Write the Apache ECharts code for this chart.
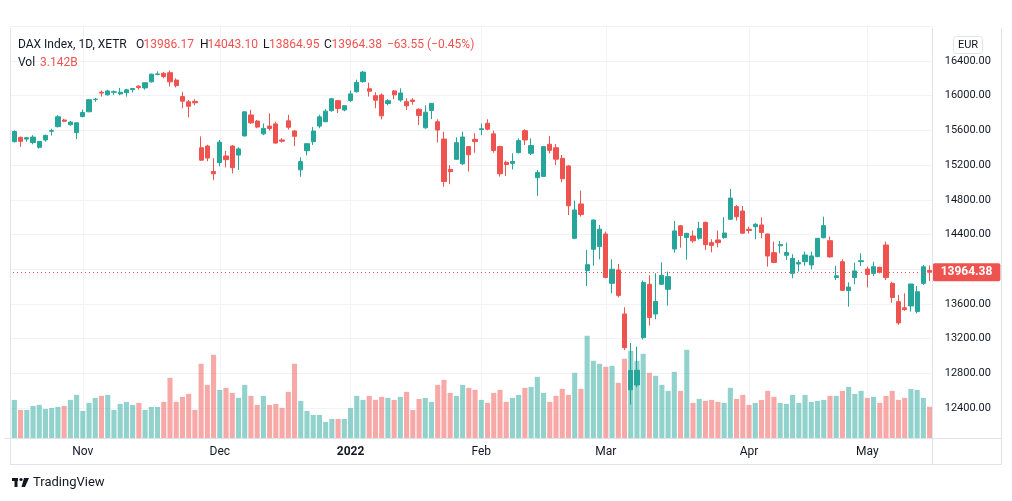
<!DOCTYPE html>
<html><head><meta charset="utf-8">
<script src="https://cdn.jsdelivr.net/npm/echarts@6/dist/echarts.min.js"></script>
<style>html,body{margin:0;padding:0;background:#fff}#c{width:1012px;height:501px}</style>
</head><body><div id="c"></div>
<script>
const dates = [
'2021-10-14','2021-10-15','2021-10-18','2021-10-19','2021-10-20','2021-10-21','2021-10-22','2021-10-25','2021-10-26','2021-10-27','2021-10-28','2021-10-29',
'2021-11-01','2021-11-02','2021-11-03','2021-11-04','2021-11-05','2021-11-08','2021-11-09','2021-11-10','2021-11-11','2021-11-12','2021-11-15','2021-11-16','2021-11-17','2021-11-18','2021-11-19','2021-11-22','2021-11-23','2021-11-24','2021-11-25','2021-11-26','2021-11-29','2021-11-30',
'2021-12-01','2021-12-02','2021-12-03','2021-12-06','2021-12-07','2021-12-08','2021-12-09','2021-12-10','2021-12-13','2021-12-14','2021-12-15','2021-12-16','2021-12-17','2021-12-20','2021-12-21','2021-12-22','2021-12-23','2021-12-27','2021-12-28','2021-12-29','2021-12-30',
'2022-01-03','2022-01-04','2022-01-05','2022-01-06','2022-01-07','2022-01-10','2022-01-11','2022-01-12','2022-01-13','2022-01-14','2022-01-17','2022-01-18','2022-01-19','2022-01-20','2022-01-21','2022-01-24','2022-01-25','2022-01-26','2022-01-27','2022-01-28','2022-01-31',
'2022-02-01','2022-02-02','2022-02-03','2022-02-04','2022-02-07','2022-02-08','2022-02-09','2022-02-10','2022-02-11','2022-02-14','2022-02-15','2022-02-16','2022-02-17','2022-02-18','2022-02-21','2022-02-22','2022-02-23','2022-02-24','2022-02-25','2022-02-28',
'2022-03-01','2022-03-02','2022-03-03','2022-03-04','2022-03-07','2022-03-08','2022-03-09','2022-03-10','2022-03-11','2022-03-14','2022-03-15','2022-03-16','2022-03-17','2022-03-18','2022-03-21','2022-03-22','2022-03-23','2022-03-24','2022-03-25','2022-03-28','2022-03-29','2022-03-30','2022-03-31',
'2022-04-01','2022-04-04','2022-04-05','2022-04-06','2022-04-07','2022-04-08','2022-04-11','2022-04-12','2022-04-13','2022-04-14','2022-04-19','2022-04-20','2022-04-21','2022-04-22','2022-04-25','2022-04-26','2022-04-27','2022-04-28','2022-04-29',
'2022-05-02','2022-05-03','2022-05-04','2022-05-05','2022-05-06','2022-05-09','2022-05-10','2022-05-11','2022-05-12','2022-05-13','2022-05-16'];

const openP = [15320,15470,15520,15500,15460,15405,15490,15590,15643,15720,15665,15575,
15760,15815,15955,16040,16010,16040,16020,16035,16070,16110,16090,16160,16245,16258,16265,16180,15990,15930,15935,15400,15420,15125,
15230,15305,15420,15315,15536,15778,15708,15560,15650,15675,15490,15710,15593,15145,15366,15470,15650,15700,15827,15943,15835,
15945,16046,16162,16080,16000,16008,15910,16055,15950,15930,15950,15843,15630,15830,15700,15500,15150,15267,15215,15413,15497,
15610,15682,15560,15413,15232,15220,15343,15597,15336,15055,15070,15440,15400,15278,15190,14356,14752,13983,14229,14260,
14406,13837,13991,13484,12610,12665,13211,13826,13484,13826,13768,14233,14500,14364,14383,14356,14540,14306,14337,14364,14575,14721,14671,
14460,14490,14510,14406,14191,14270,14160,13952,14060,14087,14049,14145,14363,14329,13905,14087,13753,13903,14087,
14002,13952,14022,14279,13837,13626,13555,13576,13511,13837,13986.17];

const highP = [15470,15600,15530,15525,15545,15480,15550,15620,15775,15735,15710,15690,
15840,15960,15975,16060,16070,16060,16090,16080,16090,16120,16155,16255,16280,16275,16290,16200,16045,15950,15960,15530,15435,15280,
15490,15365,15430,15405,15820,15835,15720,15680,15797,15700,15510,15780,15605,15290,15450,15640,15780,15845,15975,15950,15890,
16060,16185,16285,16150,16040,16027,15960,16065,16085,15970,15970,15855,15890,15915,15727,15585,15200,15520,15585,15420,15566,
15680,15728,15597,15424,15251,15335,15508,15612,15508,15144,15420,15536,15443,15317,15201,14790,14905,14222,14575,14510,
14433,14114,14060,13561,13150,13107,13870,13930,13953,14079,13972,14556,14510,14420,14444,14548,14548,14345,14444,14600,14925,14740,14729,
14490,14530,14598,14410,14318,14325,14306,14172,14106,14202,14202,14360,14606,14375,14037,14114,13849,14075,14183,
14029,14087,14029,14318,13856,13703,13722,13830,13806,14048,14043.10];

const lowP = [15300,15460,15410,15470,15440,15390,15470,15540,15635,15695,15655,15500,
15750,15810,15930,15990,16000,16010,16005,15990,16035,16070,16070,16150,16235,16200,16105,16095,15855,15750,15890,15250,15245,15030,
15185,15175,15105,15145,15530,15675,15625,15545,15597,15445,15460,15610,15420,15065,15310,15432,15625,15695,15815,15800,15820,
15930,16035,16150,15990,15855,15727,15890,15960,15930,15835,15895,15662,15620,15730,15460,14950,14980,15259,15200,15125,15343,
15545,15600,15343,15067,15075,15150,15335,15432,15316,14845,15065,15336,15201,15002,14625,14345,14606,13807,14040,14114,
13895,13722,13676,13069,12440,12640,13190,13350,13423,13818,13580,14191,14248,14110,14306,14340,14222,14195,14252,14350,14565,14560,14406,
14410,14345,14356,14030,14070,14183,14107,13895,13972,14041,13998,14137,14356,14133,13875,13750,13568,13826,14037,
13791,13921,13952,13875,13614,13360,13520,13511,13491,13818,13864.95];

const closeP = [15463,15587,15474,15516,15523,15472,15543,15599,15757,15706,15696,15688,
15806,15954,15960,16030,16054,16046,16040,16068,16083,16094,16149,16248,16251,16222,16160,16116,15937,15878,15918,15257,15281,15100,
15465,15263,15170,15387,15814,15687,15639,15623,15622,15454,15476,15636,15532,15240,15447,15593,15756,15822,15964,15852,15885,
16021,16153,16272,16052,15948,15768,15942,16010,16031,15883,15934,15773,15810,15912,15604,15011,15124,15459,15524,15319,15471,
15619,15614,15368,15100,15207,15242,15482,15490,15425,15114,15413,15370,15268,15043,14731,14683,14631,14052,14567,14461,
13905,13999,13698,13095,12832,12835,13848,13442,13628,13929,13914,14441,14388,14413,14327,14471,14283,14274,14306,14417,14820,14605,14415,
14446,14518,14424,14152,14078,14284,14193,14125,14076,14164,14153,14356,14502,14142,13924,13756,13794,13980,14098,
13939,14029,13965,13903,13674,13381,13535,13829,13740,14027.93,13964.38];

const volumeB = [3.5,3.83,2.83,2.83,3.23,3.33,2.93,3.03,3.13,3.23,3.83,4.33,
2.73,3.53,4.03,4.23,4.33,2.83,3.43,3.63,3.33,3.53,2.83,3.13,3.13,3.63,6.03,3.63,4.13,4.43,2.83,7.43,5.33,8.33,
4.83,5.03,4.53,4.03,5.33,4.23,3.33,4.23,3.33,3.43,3.03,4.63,7.43,3.73,2.73,2.33,2.33,1.63,1.93,1.93,1.93,
3.03,4.23,3.83,4.23,3.83,4.13,4.03,3.83,4.13,4.63,2.83,3.93,4.03,3.63,5.33,5.83,4.53,4.23,5.33,5.03,4.83,
3.83,3.53,4.53,4.83,3.63,4.03,4.33,5.03,5.13,6.13,4.53,3.63,4.23,4.93,4.33,6.53,4.93,10.23,7.73,7.43,
7.13,7.23,5.53,7.93,8.73,7.73,8.43,6.53,6.23,5.33,4.73,6.63,4.73,8.83,3.53,3.93,3.73,3.83,3.63,3.53,5.03,3.93,4.33,
3.33,3.53,3.83,4.73,4.13,3.53,3.43,4.33,3.53,4.33,3.63,3.73,3.83,4.23,4.23,4.73,5.13,4.43,4.73,
4.03,4.13,3.53,4.23,4.73,3.83,4.03,4.93,4.83,4.03,3.142];

const monthStarts = ['2021-11-01','2021-12-01','2022-01-03','2022-02-01','2022-03-01','2022-04-01','2022-05-02'];
const monthLabels = ['Nov','Dec','2022','Feb','Mar','Apr','May'];

const UP = '#26a69a', DOWN = '#ef5350';
const UPV = 'rgba(38,166,154,0.5)', DOWNV = 'rgba(239,83,80,0.5)';
const FONT = 'Roboto, "Noto Sans", sans-serif';
const TXT = '#131722';

const last = closeP.length - 1;
const candleData = dates.map((d, i) => [openP[i], closeP[i], lowP[i], highP[i]]);
const volData = volumeB.map((v, i) => ({ value: v, itemStyle: { color: closeP[i] >= openP[i] ? UPV : DOWNV } }));
const isMonthStart = (i, v) => monthStarts.indexOf(v) >= 0;

const chart = echarts.init(document.getElementById('c'), null, { renderer: 'canvas' });

const GL = 5, GR = 1012 - 932.7;

function t(x, y, text, color, extra) {
  return Object.assign({ type: 'text', x: x, y: y, z: 100,
    style: { text: text, fill: color, font: '12px ' + FONT, textVerticalAlign: 'middle' } }, extra || {});
}
function hline(x1, x2, y, color) {
  return { type: 'line', z: 90, shape: { x1: x1, y1: y, x2: x2, y2: y }, style: { stroke: color, lineWidth: 1 } };
}
function vline(x, y1, y2, color) {
  return { type: 'line', z: 90, shape: { x1: x, y1: y1, x2: x, y2: y2 }, style: { stroke: color, lineWidth: 1 } };
}
const fmt = v => v.toFixed(2);
const chg = closeP[last] - closeP[last - 1];
const pct = chg / closeP[last - 1] * 100;

const option = {
  animation: false,
  backgroundColor: '#fff',
  grid: [
    { left: GL, right: GR, top: 26.3, bottom: 501 - 442.7 },
    { left: GL, right: GR, top: 318, bottom: 501 - 438.3 }
  ],
  xAxis: [
    { type: 'category', gridIndex: 0, data: dates, boundaryGap: true,
      axisLine: { show: false }, axisTick: { show: false }, axisLabel: { show: false },
      splitLine: { show: true, interval: isMonthStart, alignWithLabel: true, lineStyle: { color: '#f0f3fa', width: 1 } } },
    { type: 'category', gridIndex: 1, data: dates, boundaryGap: true, z: 60,
      axisLine: { show: true, lineStyle: { color: '#e0e3eb', width: 1 } }, axisTick: { show: false },
      splitLine: { show: false },
      axisLabel: { show: true, interval: isMonthStart, margin: 8, color: TXT, fontSize: 12, fontFamily: FONT,
        formatter: (v) => { const k = monthStarts.indexOf(v); return k === 2 ? '{b|' + monthLabels[k] + '}' : monthLabels[k]; },
        rich: { b: { fontWeight: 'bold', fontSize: 12, color: TXT, fontFamily: FONT } } } }
  ],
  yAxis: [
    { type: 'value', gridIndex: 0, position: 'right', min: 12000, max: 16800, interval: 400, scale: true,
      axisLine: { show: false }, axisTick: { show: false },
      axisLabel: { margin: 12, color: TXT, fontSize: 11, fontFamily: FONT,
        formatter: v => (v <= 12000 || v >= 16800) ? '' : v.toFixed(2) },
      splitLine: { show: true, lineStyle: { color: '#f0f3fa', width: 1 } } },
    { type: 'value', gridIndex: 1, min: 0, max: 12, show: false, splitLine: { show: false } }
  ],
  series: [
    { type: 'bar', name: 'Vol', xAxisIndex: 1, yAxisIndex: 1, data: volData, barWidth: '82%', z: 1 },
    { type: 'candlestick', name: 'DAX', xAxisIndex: 0, yAxisIndex: 0, data: candleData, barWidth: '76%', z: 3,
      itemStyle: { color: UP, color0: DOWN, borderColor: UP, borderColor0: DOWN, borderWidth: 1 },
      markLine: { silent: true, symbol: 'none', animation: false,
        lineStyle: { color: DOWN, type: [1, 3], width: 1 },
        label: { show: true, position: 'end', distance: 0, formatter: fmt(closeP[last]),
          backgroundColor: DOWN, color: '#fff', fontSize: 12, fontWeight: 'bold', fontFamily: FONT,
          padding: [3, 8, 3, 8], borderRadius: 2 },
        data: [{ yAxis: closeP[last] }] } }
  ],
  graphic: [
    { type: 'rect', z: 50, shape: { x: 0, y: 0, width: 10, height: 501 }, style: { fill: '#fff' } },
    { type: 'rect', z: 50, shape: { x: 10, y: 438.8, width: 923, height: 25.5 }, style: { fill: '#fff' } },
    vline(10.5, 28, 464.5, '#e0e3eb'),
    vline(932.5, 28, 464.5, '#e0e3eb'),
    vline(1001.5, 28, 464.5, '#e0e3eb'),
    hline(10, 1002, 464.5, '#e0e3eb'),
    hline(932, 1002, 438.5, '#e0e3eb'),
    { type: 'rect', z: 95, shape: { x: 953.5, y: 36.5, width: 29, height: 17, r: 3 }, style: { fill: '#fff', stroke: '#e0e3eb', lineWidth: 1 } },
    t(968, 45, 'EUR', TXT, { style: { text: 'EUR', fill: TXT, font: '11px ' + FONT, textAlign: 'center', textVerticalAlign: 'middle' } }),
    t(18, 44.5, 'DAX Index, 1D, XETR', TXT),
    t(136, 44.5, 'O', TXT), t(143.5, 44.5, fmt(openP[last]), DOWN),
    t(200, 44.5, 'H', TXT), t(207.5, 44.5, fmt(highP[last]), DOWN),
    t(263, 44.5, 'L', TXT), t(269, 44.5, fmt(lowP[last]), DOWN),
    t(324, 44.5, 'C', TXT), t(331.5, 44.5, fmt(closeP[last]), DOWN),
    t(387, 44.5, '\u2212' + Math.abs(chg).toFixed(2) + ' (\u2212' + Math.abs(pct).toFixed(2) + '%)', DOWN),
    t(18, 62.5, 'Vol', TXT), t(40, 62.5, volumeB[last].toFixed(3) + 'B', DOWN),
    { type: 'rect', z: 100, shape: { x: 12, y: 478, width: 6, height: 3 }, style: { fill: '#131722' } },
    { type: 'rect', z: 100, shape: { x: 14.5, y: 478, width: 3, height: 9 }, style: { fill: '#131722' } },
    { type: 'circle', z: 100, shape: { cx: 21, cy: 479.5, r: 1.6 }, style: { fill: '#131722' } },
    { type: 'polygon', z: 100, shape: { points: [[24, 478], [29, 478], [25, 487], [21.5, 487]] }, style: { fill: '#131722' } },
    t(33, 482.5, 'TradingView', TXT, { style: { text: 'TradingView', fill: '#131722', font: '13px ' + FONT, textVerticalAlign: 'middle' } })
  ]
};
chart.setOption(option);
</script></body></html>
